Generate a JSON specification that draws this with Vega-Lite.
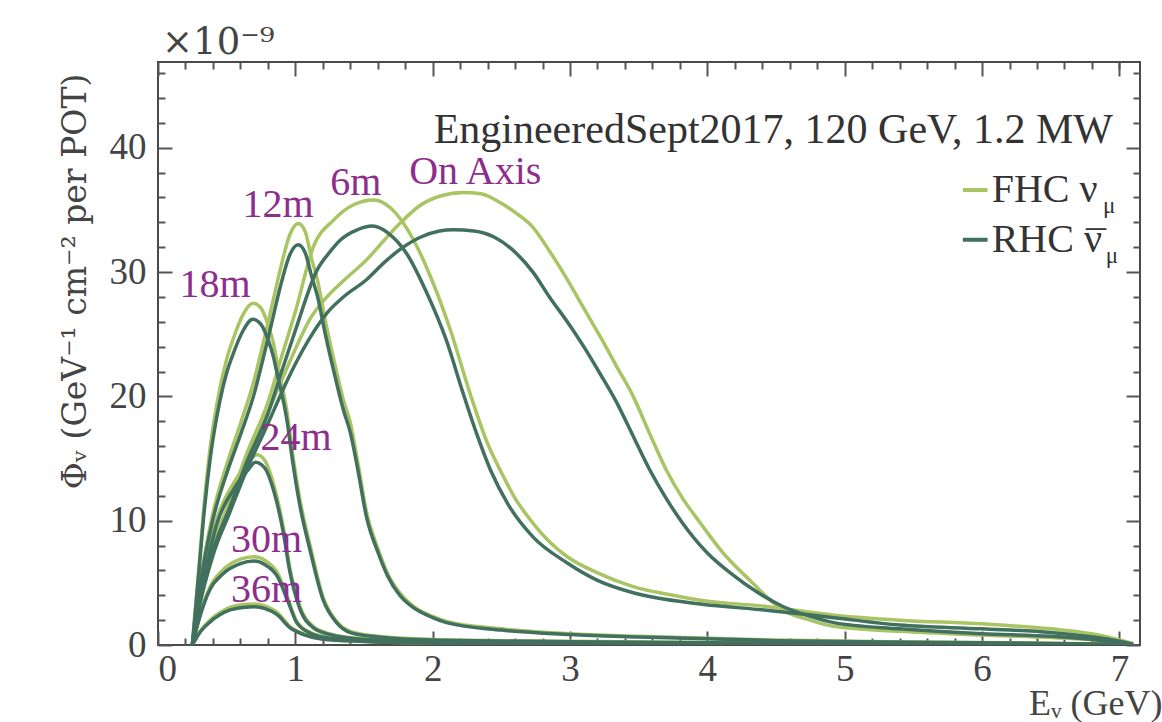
{
"$schema": "https://vega.github.io/schema/vega-lite/v6.json",
"width": 982, "height": 583,
"autosize": {"type": "none"},
"padding": {"left": 158, "top": 62, "right": 22, "bottom": 77},
"background": "white",
"config": {"view": {"stroke": "#4a4a4a", "strokeWidth": 2}, "font": "Liberation Serif"},
"datasets": {"c": [
{"pos":"OA","horn":"FHC","E":0.25,"F":0},{"pos":"OA","horn":"FHC","E":0.3,"F":3.3},{"pos":"OA","horn":"FHC","E":0.4,"F":7.7},{"pos":"OA","horn":"FHC","E":0.52,"F":11.2},{"pos":"OA","horn":"FHC","E":0.65,"F":15},{"pos":"OA","horn":"FHC","E":0.8,"F":18.7},{"pos":"OA","horn":"FHC","E":0.9,"F":21.3},{"pos":"OA","horn":"FHC","E":1.0,"F":23.8},{"pos":"OA","horn":"FHC","E":1.1,"F":26.1},{"pos":"OA","horn":"FHC","E":1.23,"F":28},{"pos":"OA","horn":"FHC","E":1.35,"F":29.3},{"pos":"OA","horn":"FHC","E":1.52,"F":31},{"pos":"OA","horn":"FHC","E":1.65,"F":32.6},{"pos":"OA","horn":"FHC","E":1.76,"F":33.9},{"pos":"OA","horn":"FHC","E":1.9,"F":35.3},{"pos":"OA","horn":"FHC","E":2.05,"F":36.1},{"pos":"OA","horn":"FHC","E":2.22,"F":36.4},{"pos":"OA","horn":"FHC","E":2.35,"F":36.3},{"pos":"OA","horn":"FHC","E":2.49,"F":35.6},{"pos":"OA","horn":"FHC","E":2.6,"F":34.8},{"pos":"OA","horn":"FHC","E":2.73,"F":33.6},{"pos":"OA","horn":"FHC","E":2.85,"F":31.7},{"pos":"OA","horn":"FHC","E":2.98,"F":29.4},{"pos":"OA","horn":"FHC","E":3.1,"F":27.1},{"pos":"OA","horn":"FHC","E":3.22,"F":24.8},{"pos":"OA","horn":"FHC","E":3.34,"F":22.4},{"pos":"OA","horn":"FHC","E":3.46,"F":20},{"pos":"OA","horn":"FHC","E":3.58,"F":17},{"pos":"OA","horn":"FHC","E":3.7,"F":14.1},{"pos":"OA","horn":"FHC","E":3.82,"F":11.8},{"pos":"OA","horn":"FHC","E":3.95,"F":9.8},{"pos":"OA","horn":"FHC","E":4.1,"F":7.6},{"pos":"OA","horn":"FHC","E":4.31,"F":5.2},{"pos":"OA","horn":"FHC","E":4.55,"F":2.8},{"pos":"OA","horn":"FHC","E":4.75,"F":2.0},{"pos":"OA","horn":"FHC","E":4.92,"F":1.5},{"pos":"OA","horn":"FHC","E":5.4,"F":1.1},{"pos":"OA","horn":"FHC","E":6,"F":0.8},{"pos":"OA","horn":"FHC","E":6.5,"F":0.6},{"pos":"OA","horn":"FHC","E":7,"F":0.2},{"pos":"OA","horn":"FHC","E":7.1,"F":0.05},
{"pos":"OA","horn":"RHC","E":0.25,"F":0},{"pos":"OA","horn":"RHC","E":0.3,"F":3.0},{"pos":"OA","horn":"RHC","E":0.4,"F":7.2},{"pos":"OA","horn":"RHC","E":0.52,"F":10.6},{"pos":"OA","horn":"RHC","E":0.65,"F":14.2},{"pos":"OA","horn":"RHC","E":0.8,"F":17.8},{"pos":"OA","horn":"RHC","E":0.9,"F":20.3},{"pos":"OA","horn":"RHC","E":1.0,"F":22.6},{"pos":"OA","horn":"RHC","E":1.1,"F":24.6},{"pos":"OA","horn":"RHC","E":1.23,"F":26.7},{"pos":"OA","horn":"RHC","E":1.35,"F":28},{"pos":"OA","horn":"RHC","E":1.52,"F":29.4},{"pos":"OA","horn":"RHC","E":1.65,"F":30.8},{"pos":"OA","horn":"RHC","E":1.76,"F":31.8},{"pos":"OA","horn":"RHC","E":1.91,"F":32.8},{"pos":"OA","horn":"RHC","E":2.05,"F":33.3},{"pos":"OA","horn":"RHC","E":2.15,"F":33.4},{"pos":"OA","horn":"RHC","E":2.3,"F":33.3},{"pos":"OA","horn":"RHC","E":2.45,"F":32.8},{"pos":"OA","horn":"RHC","E":2.61,"F":31.5},{"pos":"OA","horn":"RHC","E":2.73,"F":30},{"pos":"OA","horn":"RHC","E":2.85,"F":28},{"pos":"OA","horn":"RHC","E":2.98,"F":26},{"pos":"OA","horn":"RHC","E":3.1,"F":24},{"pos":"OA","horn":"RHC","E":3.22,"F":21.8},{"pos":"OA","horn":"RHC","E":3.34,"F":19.5},{"pos":"OA","horn":"RHC","E":3.46,"F":16.8},{"pos":"OA","horn":"RHC","E":3.58,"F":14.1},{"pos":"OA","horn":"RHC","E":3.7,"F":11.8},{"pos":"OA","horn":"RHC","E":3.82,"F":9.8},{"pos":"OA","horn":"RHC","E":4.0,"F":7.4},{"pos":"OA","horn":"RHC","E":4.19,"F":5.6},{"pos":"OA","horn":"RHC","E":4.37,"F":4.2},{"pos":"OA","horn":"RHC","E":4.55,"F":3.1},{"pos":"OA","horn":"RHC","E":4.75,"F":2.3},{"pos":"OA","horn":"RHC","E":4.92,"F":1.8},{"pos":"OA","horn":"RHC","E":5.4,"F":1.3},{"pos":"OA","horn":"RHC","E":6,"F":0.9},{"pos":"OA","horn":"RHC","E":6.5,"F":0.7},{"pos":"OA","horn":"RHC","E":7,"F":0.2},{"pos":"OA","horn":"RHC","E":7.1,"F":0.05},
{"pos":"6m","horn":"FHC","E":0.25,"F":0},{"pos":"6m","horn":"FHC","E":0.3,"F":3.5},{"pos":"6m","horn":"FHC","E":0.4,"F":8},{"pos":"6m","horn":"FHC","E":0.52,"F":11.5},{"pos":"6m","horn":"FHC","E":0.65,"F":15.5},{"pos":"6m","horn":"FHC","E":0.8,"F":19.5},{"pos":"6m","horn":"FHC","E":0.9,"F":23.2},{"pos":"6m","horn":"FHC","E":1.0,"F":26.8},{"pos":"6m","horn":"FHC","E":1.13,"F":32},{"pos":"6m","horn":"FHC","E":1.28,"F":34.2},{"pos":"6m","horn":"FHC","E":1.42,"F":35.4},{"pos":"6m","horn":"FHC","E":1.57,"F":35.8},{"pos":"6m","horn":"FHC","E":1.7,"F":35.1},{"pos":"6m","horn":"FHC","E":1.86,"F":32.6},{"pos":"6m","horn":"FHC","E":2.0,"F":29.2},{"pos":"6m","horn":"FHC","E":2.13,"F":25.3},{"pos":"6m","horn":"FHC","E":2.27,"F":20.3},{"pos":"6m","horn":"FHC","E":2.4,"F":16.2},{"pos":"6m","horn":"FHC","E":2.49,"F":14.1},{"pos":"6m","horn":"FHC","E":2.6,"F":11.8},{"pos":"6m","horn":"FHC","E":2.73,"F":9.8},{"pos":"6m","horn":"FHC","E":2.85,"F":8.3},{"pos":"6m","horn":"FHC","E":2.98,"F":7.1},{"pos":"6m","horn":"FHC","E":3.2,"F":5.8},{"pos":"6m","horn":"FHC","E":3.46,"F":4.7},{"pos":"6m","horn":"FHC","E":3.7,"F":4.1},{"pos":"6m","horn":"FHC","E":3.95,"F":3.6},{"pos":"6m","horn":"FHC","E":4.43,"F":3.1},{"pos":"6m","horn":"FHC","E":4.92,"F":2.4},{"pos":"6m","horn":"FHC","E":5.4,"F":2.0},{"pos":"6m","horn":"FHC","E":6.0,"F":1.7},{"pos":"6m","horn":"FHC","E":6.5,"F":1.3},{"pos":"6m","horn":"FHC","E":6.8,"F":0.9},{"pos":"6m","horn":"FHC","E":7.0,"F":0.4},{"pos":"6m","horn":"FHC","E":7.1,"F":0.1},
{"pos":"6m","horn":"RHC","E":0.25,"F":0},{"pos":"6m","horn":"RHC","E":0.3,"F":3.3},{"pos":"6m","horn":"RHC","E":0.4,"F":7.6},{"pos":"6m","horn":"RHC","E":0.52,"F":11},{"pos":"6m","horn":"RHC","E":0.65,"F":14.8},{"pos":"6m","horn":"RHC","E":0.8,"F":18.6},{"pos":"6m","horn":"RHC","E":0.9,"F":22},{"pos":"6m","horn":"RHC","E":1.0,"F":25.3},{"pos":"6m","horn":"RHC","E":1.16,"F":30.2},{"pos":"6m","horn":"RHC","E":1.25,"F":31.6},{"pos":"6m","horn":"RHC","E":1.33,"F":32.6},{"pos":"6m","horn":"RHC","E":1.45,"F":33.4},{"pos":"6m","horn":"RHC","E":1.56,"F":33.7},{"pos":"6m","horn":"RHC","E":1.68,"F":33.1},{"pos":"6m","horn":"RHC","E":1.81,"F":31.5},{"pos":"6m","horn":"RHC","E":1.95,"F":28.5},{"pos":"6m","horn":"RHC","E":2.1,"F":24.5},{"pos":"6m","horn":"RHC","E":2.22,"F":20.3},{"pos":"6m","horn":"RHC","E":2.32,"F":17},{"pos":"6m","horn":"RHC","E":2.42,"F":14.1},{"pos":"6m","horn":"RHC","E":2.55,"F":11.3},{"pos":"6m","horn":"RHC","E":2.73,"F":8.7},{"pos":"6m","horn":"RHC","E":2.98,"F":6.6},{"pos":"6m","horn":"RHC","E":3.2,"F":5.2},{"pos":"6m","horn":"RHC","E":3.46,"F":4.2},{"pos":"6m","horn":"RHC","E":3.95,"F":3.3},{"pos":"6m","horn":"RHC","E":4.43,"F":2.8},{"pos":"6m","horn":"RHC","E":4.92,"F":2.2},{"pos":"6m","horn":"RHC","E":5.4,"F":1.6},{"pos":"6m","horn":"RHC","E":6,"F":1.3},{"pos":"6m","horn":"RHC","E":6.5,"F":1.0},{"pos":"6m","horn":"RHC","E":7,"F":0.3},{"pos":"6m","horn":"RHC","E":7.1,"F":0.05},
{"pos":"12m","horn":"FHC","E":0.25,"F":0},{"pos":"12m","horn":"FHC","E":0.3,"F":4.5},{"pos":"12m","horn":"FHC","E":0.4,"F":10.6},{"pos":"12m","horn":"FHC","E":0.5,"F":14.5},{"pos":"12m","horn":"FHC","E":0.6,"F":17.8},{"pos":"12m","horn":"FHC","E":0.7,"F":21.3},{"pos":"12m","horn":"FHC","E":0.76,"F":24},{"pos":"12m","horn":"FHC","E":0.83,"F":27.3},{"pos":"12m","horn":"FHC","E":0.89,"F":30.2},{"pos":"12m","horn":"FHC","E":0.96,"F":33},{"pos":"12m","horn":"FHC","E":1.02,"F":33.9},{"pos":"12m","horn":"FHC","E":1.07,"F":33.3},{"pos":"12m","horn":"FHC","E":1.12,"F":31},{"pos":"12m","horn":"FHC","E":1.16,"F":29.4},{"pos":"12m","horn":"FHC","E":1.22,"F":26},{"pos":"12m","horn":"FHC","E":1.3,"F":22},{"pos":"12m","horn":"FHC","E":1.35,"F":19.7},{"pos":"12m","horn":"FHC","E":1.4,"F":17.9},{"pos":"12m","horn":"FHC","E":1.45,"F":15},{"pos":"12m","horn":"FHC","E":1.52,"F":10.6},{"pos":"12m","horn":"FHC","E":1.6,"F":7.8},{"pos":"12m","horn":"FHC","E":1.67,"F":5.8},{"pos":"12m","horn":"FHC","E":1.76,"F":4.2},{"pos":"12m","horn":"FHC","E":1.86,"F":3.1},{"pos":"12m","horn":"FHC","E":2.0,"F":2.3},{"pos":"12m","horn":"FHC","E":2.1,"F":1.9},{"pos":"12m","horn":"FHC","E":2.5,"F":1.3},{"pos":"12m","horn":"FHC","E":3,"F":0.9},{"pos":"12m","horn":"FHC","E":3.5,"F":0.7},{"pos":"12m","horn":"FHC","E":4.5,"F":0.4},{"pos":"12m","horn":"FHC","E":5.5,"F":0.25},{"pos":"12m","horn":"FHC","E":6.5,"F":0.15},{"pos":"12m","horn":"FHC","E":7.1,"F":0.05},
{"pos":"12m","horn":"RHC","E":0.25,"F":0},{"pos":"12m","horn":"RHC","E":0.3,"F":4.3},{"pos":"12m","horn":"RHC","E":0.4,"F":10.1},{"pos":"12m","horn":"RHC","E":0.5,"F":13.8},{"pos":"12m","horn":"RHC","E":0.6,"F":16.9},{"pos":"12m","horn":"RHC","E":0.7,"F":20.2},{"pos":"12m","horn":"RHC","E":0.76,"F":22.8},{"pos":"12m","horn":"RHC","E":0.83,"F":26},{"pos":"12m","horn":"RHC","E":0.89,"F":28.8},{"pos":"12m","horn":"RHC","E":0.96,"F":31.4},{"pos":"12m","horn":"RHC","E":1.02,"F":32.2},{"pos":"12m","horn":"RHC","E":1.07,"F":31.6},{"pos":"12m","horn":"RHC","E":1.12,"F":29.6},{"pos":"12m","horn":"RHC","E":1.16,"F":28.1},{"pos":"12m","horn":"RHC","E":1.22,"F":24.9},{"pos":"12m","horn":"RHC","E":1.3,"F":21.1},{"pos":"12m","horn":"RHC","E":1.35,"F":18.9},{"pos":"12m","horn":"RHC","E":1.4,"F":17.1},{"pos":"12m","horn":"RHC","E":1.45,"F":14.4},{"pos":"12m","horn":"RHC","E":1.52,"F":10.2},{"pos":"12m","horn":"RHC","E":1.6,"F":7.5},{"pos":"12m","horn":"RHC","E":1.67,"F":5.6},{"pos":"12m","horn":"RHC","E":1.76,"F":4.0},{"pos":"12m","horn":"RHC","E":1.86,"F":3.0},{"pos":"12m","horn":"RHC","E":2.0,"F":2.2},{"pos":"12m","horn":"RHC","E":2.1,"F":1.8},{"pos":"12m","horn":"RHC","E":2.5,"F":1.2},{"pos":"12m","horn":"RHC","E":3,"F":0.85},{"pos":"12m","horn":"RHC","E":3.5,"F":0.65},{"pos":"12m","horn":"RHC","E":4.5,"F":0.35},{"pos":"12m","horn":"RHC","E":5.5,"F":0.22},{"pos":"12m","horn":"RHC","E":6.5,"F":0.13},{"pos":"12m","horn":"RHC","E":7.1,"F":0.04},
{"pos":"18m","horn":"FHC","E":0.25,"F":0},{"pos":"18m","horn":"FHC","E":0.3,"F":6.5},{"pos":"18m","horn":"FHC","E":0.33,"F":10.6},{"pos":"18m","horn":"FHC","E":0.38,"F":15.9},{"pos":"18m","horn":"FHC","E":0.45,"F":20.6},{"pos":"18m","horn":"FHC","E":0.5,"F":23},{"pos":"18m","horn":"FHC","E":0.55,"F":24.7},{"pos":"18m","horn":"FHC","E":0.62,"F":26.6},{"pos":"18m","horn":"FHC","E":0.69,"F":27.5},{"pos":"18m","horn":"FHC","E":0.75,"F":27.1},{"pos":"18m","horn":"FHC","E":0.8,"F":25.8},{"pos":"18m","horn":"FHC","E":0.84,"F":24.3},{"pos":"18m","horn":"FHC","E":0.87,"F":22.6},{"pos":"18m","horn":"FHC","E":0.94,"F":18.7},{"pos":"18m","horn":"FHC","E":0.98,"F":15.4},{"pos":"18m","horn":"FHC","E":1.03,"F":11.9},{"pos":"18m","horn":"FHC","E":1.11,"F":7.9},{"pos":"18m","horn":"FHC","E":1.2,"F":3.9},{"pos":"18m","horn":"FHC","E":1.3,"F":1.9},{"pos":"18m","horn":"FHC","E":1.4,"F":1.1},{"pos":"18m","horn":"FHC","E":1.6,"F":0.7},{"pos":"18m","horn":"FHC","E":2,"F":0.45},{"pos":"18m","horn":"FHC","E":3,"F":0.3},{"pos":"18m","horn":"FHC","E":4,"F":0.2},{"pos":"18m","horn":"FHC","E":5,"F":0.15},{"pos":"18m","horn":"FHC","E":6,"F":0.1},{"pos":"18m","horn":"FHC","E":7,"F":0.04},
{"pos":"18m","horn":"RHC","E":0.25,"F":0},{"pos":"18m","horn":"RHC","E":0.3,"F":6.2},{"pos":"18m","horn":"RHC","E":0.33,"F":10},{"pos":"18m","horn":"RHC","E":0.38,"F":15},{"pos":"18m","horn":"RHC","E":0.45,"F":19.6},{"pos":"18m","horn":"RHC","E":0.5,"F":21.9},{"pos":"18m","horn":"RHC","E":0.55,"F":23.5},{"pos":"18m","horn":"RHC","E":0.62,"F":25.3},{"pos":"18m","horn":"RHC","E":0.69,"F":26.2},{"pos":"18m","horn":"RHC","E":0.75,"F":25.8},{"pos":"18m","horn":"RHC","E":0.8,"F":24.6},{"pos":"18m","horn":"RHC","E":0.84,"F":23.2},{"pos":"18m","horn":"RHC","E":0.87,"F":21.7},{"pos":"18m","horn":"RHC","E":0.94,"F":18},{"pos":"18m","horn":"RHC","E":0.98,"F":14.8},{"pos":"18m","horn":"RHC","E":1.03,"F":11.4},{"pos":"18m","horn":"RHC","E":1.11,"F":7.5},{"pos":"18m","horn":"RHC","E":1.2,"F":3.7},{"pos":"18m","horn":"RHC","E":1.3,"F":1.8},{"pos":"18m","horn":"RHC","E":1.4,"F":1.0},{"pos":"18m","horn":"RHC","E":1.6,"F":0.65},{"pos":"18m","horn":"RHC","E":2,"F":0.4},{"pos":"18m","horn":"RHC","E":3,"F":0.27},{"pos":"18m","horn":"RHC","E":4,"F":0.18},{"pos":"18m","horn":"RHC","E":5,"F":0.13},{"pos":"18m","horn":"RHC","E":6,"F":0.09},{"pos":"18m","horn":"RHC","E":7,"F":0.03},
{"pos":"24m","horn":"FHC","E":0.25,"F":0},{"pos":"24m","horn":"FHC","E":0.3,"F":3.5},{"pos":"24m","horn":"FHC","E":0.33,"F":5.4},{"pos":"24m","horn":"FHC","E":0.43,"F":10.2},{"pos":"24m","horn":"FHC","E":0.55,"F":13},{"pos":"24m","horn":"FHC","E":0.65,"F":14.6},{"pos":"24m","horn":"FHC","E":0.72,"F":15.3},{"pos":"24m","horn":"FHC","E":0.78,"F":14.8},{"pos":"24m","horn":"FHC","E":0.84,"F":13},{"pos":"24m","horn":"FHC","E":0.91,"F":9.6},{"pos":"24m","horn":"FHC","E":0.96,"F":6.2},{"pos":"24m","horn":"FHC","E":1.03,"F":3.2},{"pos":"24m","horn":"FHC","E":1.13,"F":1.5},{"pos":"24m","horn":"FHC","E":1.25,"F":0.9},{"pos":"24m","horn":"FHC","E":1.5,"F":0.5},{"pos":"24m","horn":"FHC","E":2,"F":0.3},{"pos":"24m","horn":"FHC","E":3,"F":0.2},{"pos":"24m","horn":"FHC","E":4,"F":0.12},{"pos":"24m","horn":"FHC","E":5,"F":0.08},{"pos":"24m","horn":"FHC","E":6,"F":0.05},{"pos":"24m","horn":"FHC","E":7,"F":0.02},
{"pos":"24m","horn":"RHC","E":0.25,"F":0},{"pos":"24m","horn":"RHC","E":0.3,"F":3.3},{"pos":"24m","horn":"RHC","E":0.33,"F":5.1},{"pos":"24m","horn":"RHC","E":0.43,"F":9.8},{"pos":"24m","horn":"RHC","E":0.55,"F":12.5},{"pos":"24m","horn":"RHC","E":0.65,"F":14.0},{"pos":"24m","horn":"RHC","E":0.71,"F":14.7},{"pos":"24m","horn":"RHC","E":0.78,"F":14.2},{"pos":"24m","horn":"RHC","E":0.84,"F":12.5},{"pos":"24m","horn":"RHC","E":0.91,"F":9.2},{"pos":"24m","horn":"RHC","E":0.96,"F":5.9},{"pos":"24m","horn":"RHC","E":1.03,"F":3.0},{"pos":"24m","horn":"RHC","E":1.13,"F":1.4},{"pos":"24m","horn":"RHC","E":1.25,"F":0.85},{"pos":"24m","horn":"RHC","E":1.5,"F":0.45},{"pos":"24m","horn":"RHC","E":2,"F":0.28},{"pos":"24m","horn":"RHC","E":3,"F":0.18},{"pos":"24m","horn":"RHC","E":4,"F":0.11},{"pos":"24m","horn":"RHC","E":5,"F":0.07},{"pos":"24m","horn":"RHC","E":6,"F":0.04},{"pos":"24m","horn":"RHC","E":7,"F":0.02},
{"pos":"30m","horn":"FHC","E":0.25,"F":0},{"pos":"30m","horn":"FHC","E":0.3,"F":2.2},{"pos":"30m","horn":"FHC","E":0.38,"F":4.7},{"pos":"30m","horn":"FHC","E":0.47,"F":6.0},{"pos":"30m","horn":"FHC","E":0.6,"F":6.9},{"pos":"30m","horn":"FHC","E":0.7,"F":7.1},{"pos":"30m","horn":"FHC","E":0.78,"F":6.8},{"pos":"30m","horn":"FHC","E":0.87,"F":5.8},{"pos":"30m","horn":"FHC","E":0.94,"F":3.9},{"pos":"30m","horn":"FHC","E":1.01,"F":1.9},{"pos":"30m","horn":"FHC","E":1.11,"F":1.0},{"pos":"30m","horn":"FHC","E":1.25,"F":0.6},{"pos":"30m","horn":"FHC","E":1.5,"F":0.35},{"pos":"30m","horn":"FHC","E":2,"F":0.2},{"pos":"30m","horn":"FHC","E":3,"F":0.12},{"pos":"30m","horn":"FHC","E":4,"F":0.08},{"pos":"30m","horn":"FHC","E":5,"F":0.05},{"pos":"30m","horn":"FHC","E":6,"F":0.03},{"pos":"30m","horn":"FHC","E":7,"F":0.01},
{"pos":"30m","horn":"RHC","E":0.25,"F":0},{"pos":"30m","horn":"RHC","E":0.3,"F":2.1},{"pos":"30m","horn":"RHC","E":0.38,"F":4.5},{"pos":"30m","horn":"RHC","E":0.47,"F":5.7},{"pos":"30m","horn":"RHC","E":0.6,"F":6.55},{"pos":"30m","horn":"RHC","E":0.7,"F":6.75},{"pos":"30m","horn":"RHC","E":0.78,"F":6.45},{"pos":"30m","horn":"RHC","E":0.87,"F":5.5},{"pos":"30m","horn":"RHC","E":0.94,"F":3.7},{"pos":"30m","horn":"RHC","E":1.01,"F":1.8},{"pos":"30m","horn":"RHC","E":1.11,"F":0.95},{"pos":"30m","horn":"RHC","E":1.25,"F":0.55},{"pos":"30m","horn":"RHC","E":1.5,"F":0.33},{"pos":"30m","horn":"RHC","E":2,"F":0.19},{"pos":"30m","horn":"RHC","E":3,"F":0.11},{"pos":"30m","horn":"RHC","E":4,"F":0.07},{"pos":"30m","horn":"RHC","E":5,"F":0.05},{"pos":"30m","horn":"RHC","E":6,"F":0.03},{"pos":"30m","horn":"RHC","E":7,"F":0.01},
{"pos":"36m","horn":"FHC","E":0.25,"F":0},{"pos":"36m","horn":"FHC","E":0.3,"F":1.0},{"pos":"36m","horn":"FHC","E":0.38,"F":2.0},{"pos":"36m","horn":"FHC","E":0.52,"F":3.0},{"pos":"36m","horn":"FHC","E":0.62,"F":3.25},{"pos":"36m","horn":"FHC","E":0.7,"F":3.3},{"pos":"36m","horn":"FHC","E":0.78,"F":3.15},{"pos":"36m","horn":"FHC","E":0.87,"F":2.6},{"pos":"36m","horn":"FHC","E":0.96,"F":1.5},{"pos":"36m","horn":"FHC","E":1.06,"F":0.9},{"pos":"36m","horn":"FHC","E":1.2,"F":0.5},{"pos":"36m","horn":"FHC","E":1.5,"F":0.3},{"pos":"36m","horn":"FHC","E":2,"F":0.15},{"pos":"36m","horn":"FHC","E":3,"F":0.1},{"pos":"36m","horn":"FHC","E":4,"F":0.06},{"pos":"36m","horn":"FHC","E":5,"F":0.04},{"pos":"36m","horn":"FHC","E":6,"F":0.02},{"pos":"36m","horn":"FHC","E":7,"F":0.01},
{"pos":"36m","horn":"RHC","E":0.25,"F":0},{"pos":"36m","horn":"RHC","E":0.3,"F":0.93},{"pos":"36m","horn":"RHC","E":0.38,"F":1.86},{"pos":"36m","horn":"RHC","E":0.52,"F":2.8},{"pos":"36m","horn":"RHC","E":0.62,"F":3.02},{"pos":"36m","horn":"RHC","E":0.7,"F":3.07},{"pos":"36m","horn":"RHC","E":0.78,"F":2.93},{"pos":"36m","horn":"RHC","E":0.87,"F":2.42},{"pos":"36m","horn":"RHC","E":0.96,"F":1.4},{"pos":"36m","horn":"RHC","E":1.06,"F":0.84},{"pos":"36m","horn":"RHC","E":1.2,"F":0.47},{"pos":"36m","horn":"RHC","E":1.5,"F":0.28},{"pos":"36m","horn":"RHC","E":2,"F":0.14},{"pos":"36m","horn":"RHC","E":3,"F":0.09},{"pos":"36m","horn":"RHC","E":4,"F":0.06},{"pos":"36m","horn":"RHC","E":5,"F":0.04},{"pos":"36m","horn":"RHC","E":6,"F":0.02},{"pos":"36m","horn":"RHC","E":7,"F":0.01}
]},
"layer": [
{"data": {"name": "c"}, "transform": [{"filter": "datum.horn === 'FHC'"}],
 "mark": {"type": "line", "strokeWidth": 3.5, "interpolate": "monotone", "clip": true},
 "encoding": {
  "x": {"field": "E", "type": "quantitative", "scale": {"domain": [0, 7.15], "nice": false, "zero": false},
        "axis": {"orient": "bottom", "values": [0,1,2,3,4,5,6,7], "ticks": false, "domain": false, "grid": false, "labelFontSize": 37, "labelColor": "#444", "labelFont": "Liberation Serif", "labelPadding": 6,
                 "title": "Eᵥ (GeV)", "titleFont": "Liberation Serif", "titleFontSize": 36, "titleFontWeight": "normal", "titleColor": "#444", "titleX": 1004, "titleY": 69, "titleAlign": "right", "titleBaseline": "alphabetic", "titleAnchor": "end"}},
  "y": {"field": "F", "type": "quantitative", "scale": {"domain": [0, 46.9], "nice": false},
        "axis": {"orient": "left", "values": [0,10,20,30,40], "ticks": false, "domain": false, "grid": false, "labelFontSize": 37, "labelColor": "#444", "labelFont": "Liberation Serif", "labelPadding": 12,
                 "title": "Φᵥ (GeV⁻¹ cm⁻² per POT)", "titleFont": "DejaVu Serif", "titleFontSize": 33, "titleFontWeight": "normal", "titleColor": "#444", "titleX": -83, "titleY": 219, "titleAngle": -90, "titleAlign": "center", "titleBaseline": "middle"}},
  "color": {"field": "horn", "type": "nominal", "scale": {"domain": ["FHC", "RHC"], "range": ["#a9c462", "#41705f"]}, "legend": null},
  "detail": {"field": "pos"}
 }},
{"data": {"name": "c"}, "transform": [{"filter": "datum.horn === 'RHC'"}],
 "mark": {"type": "line", "strokeWidth": 3.5, "interpolate": "monotone", "clip": true},
 "encoding": {
  "x": {"field": "E", "type": "quantitative", "axis": null},
  "y": {"field": "F", "type": "quantitative", "axis": null},
  "color": {"field": "horn", "type": "nominal", "legend": null},
  "detail": {"field": "pos"}
 }},
{"data": {"name": "c"}, "mark": {"type": "point", "opacity": 0},
 "encoding": {
  "x": {"field": "E", "type": "quantitative", "axis": {"orient": "bottom", "values": [0,1,2,3,4,5,6,7], "labels": false, "domain": false, "grid": false, "tickSize": -14, "tickWidth": 2, "tickColor": "#555", "title": null}},
  "y": {"field": "F", "type": "quantitative", "axis": {"orient": "left", "values": [0,10,20,30,40], "labels": false, "domain": false, "grid": false, "tickSize": -14, "tickWidth": 2, "tickColor": "#555", "title": null}}
 }},
{"data": {"name": "c"}, "mark": {"type": "point", "opacity": 0},
 "encoding": {
  "x": {"field": "E", "type": "quantitative", "axis": {"orient": "bottom", "values": [0.2,0.4,0.6,0.8,1.2,1.4,1.6,1.8,2.2,2.4,2.6,2.8,3.2,3.4,3.6,3.8,4.2,4.4,4.6,4.8,5.2,5.4,5.6,5.8,6.2,6.4,6.6,6.8,7], "labels": false, "domain": false, "grid": false, "tickSize": -7, "tickWidth": 2, "tickColor": "#555", "title": null}},
  "y": {"field": "F", "type": "quantitative", "axis": {"orient": "left", "values": [2,4,6,8,12,14,16,18,22,24,26,28,32,34,36,38,42,44,46], "labels": false, "domain": false, "grid": false, "tickSize": -7, "tickWidth": 2, "tickColor": "#555", "title": null}}
 }},
{"data": {"name": "c"}, "mark": {"type": "point", "opacity": 0},
 "encoding": {
  "x": {"field": "E", "type": "quantitative", "axis": {"orient": "top", "values": [0,1,2,3,4,5,6,7], "labels": false, "domain": false, "grid": false, "tickSize": -14, "tickWidth": 2, "tickColor": "#555", "title": null}},
  "y": {"field": "F", "type": "quantitative", "axis": {"orient": "right", "values": [0,10,20,30,40], "labels": false, "domain": false, "grid": false, "tickSize": -14, "tickWidth": 2, "tickColor": "#555", "title": null}}
 }},
{"data": {"name": "c"}, "mark": {"type": "point", "opacity": 0},
 "encoding": {
  "x": {"field": "E", "type": "quantitative", "axis": {"orient": "top", "values": [0.2,0.4,0.6,0.8,1.2,1.4,1.6,1.8,2.2,2.4,2.6,2.8,3.2,3.4,3.6,3.8,4.2,4.4,4.6,4.8,5.2,5.4,5.6,5.8,6.2,6.4,6.6,6.8,7], "labels": false, "domain": false, "grid": false, "tickSize": -7, "tickWidth": 2, "tickColor": "#555", "title": null}},
  "y": {"field": "F", "type": "quantitative", "axis": {"orient": "right", "values": [2,4,6,8,12,14,16,18,22,24,26,28,32,34,36,38,42,44,46], "labels": false, "domain": false, "grid": false, "tickSize": -7, "tickWidth": 2, "tickColor": "#555", "title": null}}
 }},
{"data": {"values": [{"t": "×10⁻⁹", "E": 0.03, "F": 48.4}]},
 "mark": {"type": "text", "font": "DejaVu Serif", "fontSize": 37, "color": "#444", "align": "left", "baseline": "middle"},
 "encoding": {"x": {"field": "E", "type": "quantitative", "axis": null}, "y": {"field": "F", "type": "quantitative", "axis": null}, "text": {"field": "t"}}},
{"data": {"values": [{"t": "EngineeredSept2017, 120 GeV, 1.2 MW", "E": 4.48, "F": 41.4}]},
 "mark": {"type": "text", "font": "Liberation Serif", "fontSize": 42, "color": "#333", "align": "center", "baseline": "middle"},
 "encoding": {"x": {"field": "E", "type": "quantitative", "axis": null}, "y": {"field": "F", "type": "quantitative", "axis": null}, "text": {"field": "t"}}},
{"data": {"values": [
  {"t": "On Axis", "E": 2.31, "F": 38.05}, {"t": "6m", "E": 1.44, "F": 37.2}, {"t": "12m", "E": 0.874, "F": 35.4},
  {"t": "18m", "E": 0.415, "F": 29.0}, {"t": "24m", "E": 1.005, "F": 16.65}, {"t": "30m", "E": 0.79, "F": 8.45}, {"t": "36m", "E": 0.79, "F": 4.4}]},
 "mark": {"type": "text", "font": "Liberation Serif", "fontSize": 40, "color": "#8e2e8c", "align": "center", "baseline": "middle"},
 "encoding": {"x": {"field": "E", "type": "quantitative", "axis": null}, "y": {"field": "F", "type": "quantitative", "axis": null}, "text": {"field": "t"}}},
{"data": {"values": [{"horn": "FHC", "E": 5.86, "E2": 6.04, "F": 36.6}, {"horn": "RHC", "E": 5.86, "E2": 6.04, "F": 32.6}]},
 "mark": {"type": "rule", "strokeWidth": 4},
 "encoding": {"x": {"field": "E", "type": "quantitative", "axis": null}, "x2": {"field": "E2"}, "y": {"field": "F", "type": "quantitative", "axis": null},
  "color": {"field": "horn", "type": "nominal", "legend": null}}},
{"data": {"values": [{"t": "FHC ν", "E": 6.07, "F": 36.6}, {"t": "RHC ν", "E": 6.07, "F": 32.6}]},
 "mark": {"type": "text", "font": "Liberation Serif", "fontSize": 40, "color": "#333", "align": "left", "baseline": "middle"},
 "encoding": {"x": {"field": "E", "type": "quantitative", "axis": null}, "y": {"field": "F", "type": "quantitative", "axis": null}, "text": {"field": "t"}}},
{"data": {"values": [{"t": "¯", "E": 6.83, "F": 32.0}]},
 "mark": {"type": "text", "font": "Liberation Serif", "fontSize": 40, "color": "#333", "align": "center", "baseline": "middle"},
 "encoding": {"x": {"field": "E", "type": "quantitative", "axis": null}, "y": {"field": "F", "type": "quantitative", "axis": null}, "text": {"field": "t"}}},
{"data": {"values": [{"t": "μ", "E": 6.88, "F": 35.3}, {"t": "μ", "E": 6.9, "F": 31.3}]},
 "mark": {"type": "text", "font": "Liberation Serif", "fontSize": 23, "color": "#333", "align": "left", "baseline": "middle"},
 "encoding": {"x": {"field": "E", "type": "quantitative", "axis": null}, "y": {"field": "F", "type": "quantitative", "axis": null}, "text": {"field": "t"}}}
],
"resolve": {"axis": {"x": "independent", "y": "independent"}}
}
